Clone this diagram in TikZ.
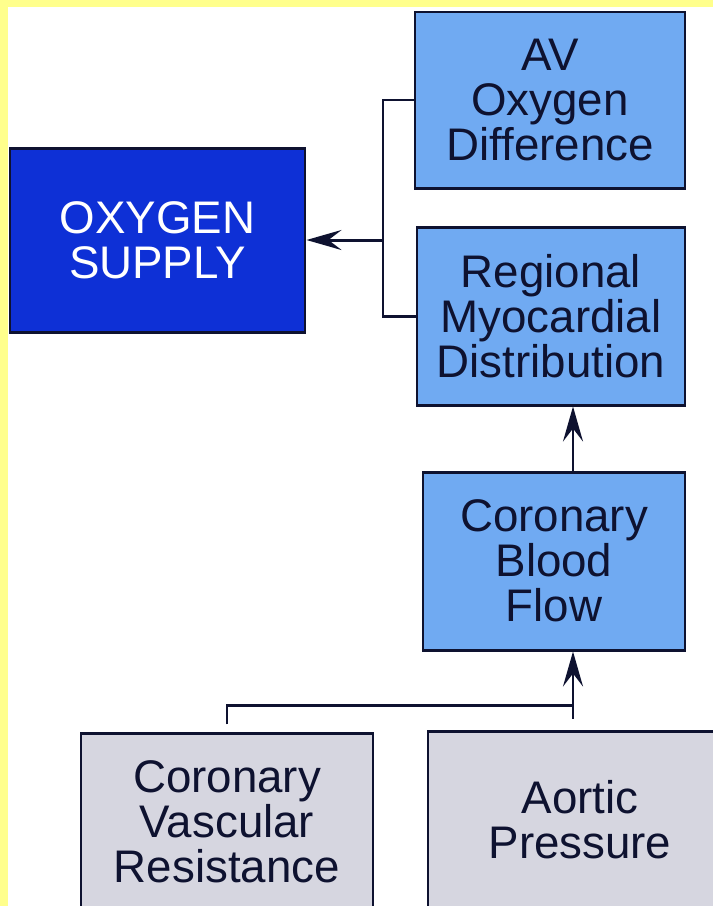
\documentclass[tikz,border=0pt]{standalone}
\usepackage{fontspec}
\setsansfont{Liberation Sans}
\usetikzlibrary{arrows.meta}
\definecolor{paleblue}{RGB}{112,170,242}
\definecolor{deepblue}{RGB}{14,48,214}
\definecolor{paper}{RGB}{214,214,224}
\definecolor{ink}{RGB}{14,18,48}
\definecolor{edge}{RGB}{255,255,140}
\begin{document}
\begin{tikzpicture}[font=\sffamily\fontsize{26}{25.5}\selectfont, line width=1.7pt, draw=ink, every node/.style={draw=ink, align=center, inner sep=0pt, text=ink}, light/.style={fill=paleblue, minimum height=3.56cm}, grey/.style={fill=paper, minimum height=3.56cm}, >={Stealth[length=7mm, width=4mm, inset=2.6mm]}]
        \clip (0, 0) rectangle (14.26, -18.12);
        \fill[white] (0, 0) rectangle (14.26, -18.12);
        \fill[edge] (0, 0) rectangle (0.16, -18.12);
        \fill[edge] (0, 0) rectangle (14.26, -0.14);

        \node[fill=deepblue, text=white, minimum width=5.90cm, minimum height=3.68cm] (oxy) at (3.15, -4.80) {OXYGEN\\SUPPLY};
        \node[light, minimum width=5.40cm, minimum height=3.52cm] (av) at (11.00, -2.00) {AV\\Oxygen\\Difference};
        \node[light, minimum width=5.36cm] (reg) at (11.02, -6.32) {Regional\\Myocardial\\Distribution};
        \node[light, minimum width=5.24cm] (cbf) at (11.08, -11.22) {Coronary\\Blood\\Flow};
        \node[grey, minimum width=5.84cm] (cvr) at (4.54, -16.44) {Coronary\\Vascular\\Resistance};
        \node[grey, minimum width=6.08cm] (aort) at (11.60, -16.40) {Aortic\\Pressure};

        \coordinate (fork) at (7.66, -4.80);
        \coordinate (meet) at (11.46, -14.10);

        \draw (av.west) -| (fork) |- (reg.west);
        \draw[->] (fork) -- (oxy.east);
        \draw[->] (cbf.north -| meet) -- (reg.south -| meet);
        \draw[shorten <=4pt] (cvr.north) |- (meet);
        \draw[->, shorten <=6pt] (aort.north -| meet) -- (cbf.south -| meet);
    \end{tikzpicture}
\end{document}
